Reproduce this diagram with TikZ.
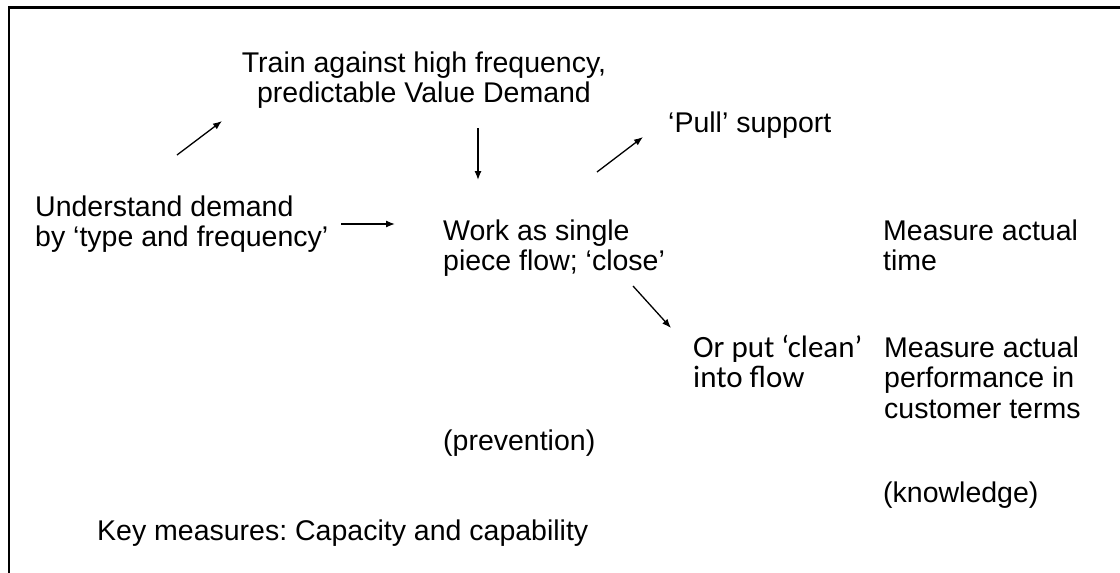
\documentclass[tikz,border=0pt]{standalone}
\usepackage{fontspec}
\setmainfont{Liberation Sans}
\newfontfamily\calibrifont{Carlito}
\usetikzlibrary{arrows.meta}
\tikzset{
  lbl/.style={inner sep=0pt, anchor=base west, align=left,
    font=\fontsize{28.5}{30.5}\selectfont\frenchspacing},
  ctr/.style={inner sep=0pt, anchor=base, align=center,
    font=\fontsize{28.5}{30.5}\selectfont\frenchspacing},
  arr/.style={line width=1.3pt, -{Latex[length=9pt,width=7pt]}},
  frame/.style={line width=2.2pt}
}
\begin{document}
\begin{tikzpicture}[x=1pt,y=-1pt]
  \useasboundingbox (0,0) rectangle (1120,573);
  % open frame: left and top edges only
  \draw[frame] (9,573) -- (9,7.5) -- (1120,7.5);

  % text blocks (multi-line nodes sit on the baseline of their last line)
  \node[ctr]  (train)   at (424,102.5) {Train against high frequency,\\predictable Value Demand};
  \node[lbl]  (pull)    at (668,132)   {‘Pull’ support};
  \node[lbl]  (underst) at (35,246.5)  {Understand demand\\by ‘type and frequency’};
  \node[lbl]  (work)    at (443,270.5) {Work as single\\piece flow; ‘close’};
  \node[lbl]  (mtime)   at (883,270.5) {Measure actual\\time};
  \node[lbl,font=\calibrifont\fontsize{31}{30.5}\selectfont]
              (clean)   at (693,387.5) {Or put ‘clean’\\into flow};
  \node[lbl]  (mperf)   at (884,418)   {Measure actual\\performance in\\customer terms};
  \node[lbl]  (prev)    at (443,450)   {(prevention)};
  \node[lbl]  (know)    at (883,502)   {(knowledge)};
  \node[lbl]  (key)     at (97,540)    {Key measures: Capacity and capability};

  % arrow end points
  \coordinate (a1s) at (177,155);  \coordinate (a1e) at (222,121);
  \coordinate (a2s) at (478,128);  \coordinate (a2e) at (478,180);
  \coordinate (a3s) at (341,224);  \coordinate (a3e) at (395,224);
  \coordinate (a4s) at (597,172);  \coordinate (a4e) at (643,137);
  \coordinate (a5s) at (633,286);  \coordinate (a5e) at (671,328);

  \draw[arr] (a1s) -- (a1e);
  \draw[arr] (a2s) -- (a2e);
  \draw[arr] (a3s) -- (a3e);
  \draw[arr] (a4s) -- (a4e);
  \draw[arr] (a5s) -- (a5e);
\end{tikzpicture}
\end{document}
